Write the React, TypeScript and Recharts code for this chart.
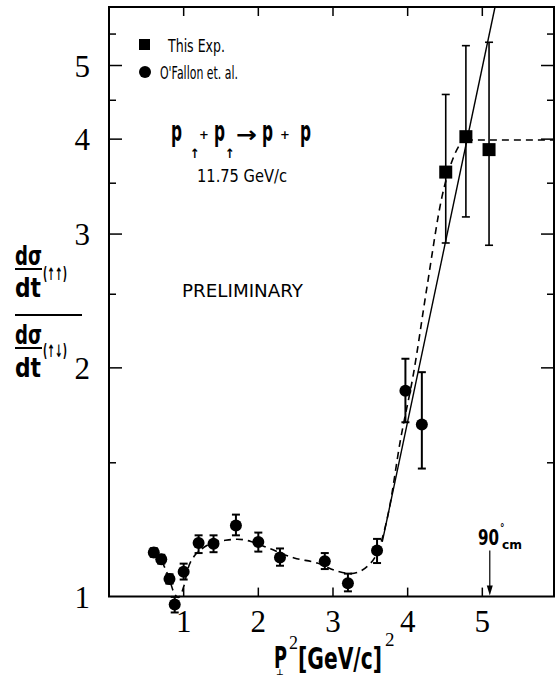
import React from 'react';
import {
  ComposedChart, Scatter, Line, XAxis, YAxis, ErrorBar,
  ReferenceLine, ReferenceArea, Legend,
} from 'recharts';

// ---- O'Fallon et al. (circles) ----
const ofX = [0.60, 0.70, 0.81, 0.88, 1.00, 1.20, 1.40, 1.70, 2.00, 2.29, 2.89, 3.20, 3.59, 3.97, 4.19];
const ofY = [1.143, 1.12, 1.055, 0.976, 1.078, 1.176, 1.174, 1.24, 1.18, 1.126, 1.113, 1.041, 1.15, 1.866, 1.684];
const ofErrLow = [0.015, 0.015, 0.015, 0.023, 0.025, 0.035, 0.03, 0.036, 0.034, 0.028, 0.026, 0.025, 0.043, 0.17, 0.21];
const ofErrHigh = [0.015, 0.015, 0.015, 0.023, 0.027, 0.028, 0.03, 0.042, 0.034, 0.031, 0.028, 0.031, 0.041, 0.19, 0.29];

// ---- This experiment (squares) ----
const expX = [4.51, 4.78, 5.09];
const expY = [3.62, 4.03, 3.875];
const expErrLow = [0.70, 0.87, 0.975];
const expErrHigh = [0.96, 1.28, 1.49];

// ---- dashed guide curve ----
const dashX = [0.60, 0.70, 0.80, 0.87, 0.93, 1.00, 1.06, 1.14, 1.24, 1.40, 1.56, 1.72, 1.90, 2.12, 2.48, 2.79, 3.06, 3.24, 3.46, 3.62, 3.75, 3.90, 4.08, 4.26, 4.46, 4.62, 4.78];
const dashY = [1.143, 1.115, 1.06, 1.012, 0.997, 1.03, 1.09, 1.13, 1.155, 1.178, 1.186, 1.19, 1.182, 1.16, 1.124, 1.107, 1.08, 1.072, 1.096, 1.16, 1.30, 1.60, 1.97, 2.56, 3.36, 3.80, 4.03];
// dashed horizontal continuation
const flatX = [4.78, 5.96];
const flatY = [3.99, 3.99];
// solid straight fit
const fitX = [3.66, 5.17];
const fitY = [1.18, 5.97];

// ---- axes ----
const xDomain = [0, 5.96];
const yDomain = [0.94, 5.97];
const xTicks = [1, 2, 3, 4, 5];
const yTicks = [1, 2, 3, 4, 5];
const yMinorTicks = [1.5, 2.5, 3.5, 4.5, 5.5];
const yMajorInner = [2, 3, 4, 5];
const arrowX = 5.1;
const arrowY = [1.15, 1.0];

const ofData = ofX.map((x, i) => ({ x, y: ofY[i], err: [ofErrLow[i], ofErrHigh[i]] }));
const expData = expX.map((x, i) => ({ x, y: expY[i], err: [expErrLow[i], expErrHigh[i]] }));
const dashData = dashX.map((x, i) => ({ x, y: dashY[i] }));
const flatData = flatX.map((x, i) => ({ x, y: flatY[i] }));
const fitData = fitX.map((x, i) => ({ x, y: fitY[i] }));

const SERIF = "'Liberation Serif','DejaVu Serif',serif";
const COND = "'Liberation Sans Narrow','DejaVu Sans Condensed','Liberation Sans',sans-serif";
const GOTH = "'DejaVu Sans','Liberation Sans',sans-serif";

const CircleShape = (p: any) => <circle cx={p.cx} cy={p.cy} r={6} fill="#000" />;
const SquareShape = (p: any) => <rect x={p.cx - 6.5} y={p.cy - 6.5} width={13} height={13} fill="#000" />;

const XTick = (p: any) => (
  <text x={p.x} y={p.y} textAnchor="middle" fontFamily={SERIF} fontSize={31} fill="#000">
    {p.payload.value}
  </text>
);
const YTick = (p: any) => (
  <text x={p.x} y={p.y} dy={11} textAnchor="end" fontFamily={SERIF} fontSize={31} fill="#000">
    {p.payload.value}
  </text>
);

const vTicks = (len: number) => (p: any) => {
  const top = Math.min(p.y1, p.y2);
  const bot = Math.max(p.y1, p.y2);
  return (
    <g>
      <line x1={p.x1} x2={p.x1} y1={top} y2={top + len} stroke="#000" strokeWidth={1.5} />
      <line x1={p.x1} x2={p.x1} y1={bot} y2={bot - len} stroke="#000" strokeWidth={1.5} />
    </g>
  );
};
const hTicks = (len: number) => (p: any) => {
  const l = Math.min(p.x1, p.x2);
  const r = Math.max(p.x1, p.x2);
  return (
    <g>
      <line x1={l} x2={l + len} y1={p.y1} y2={p.y1} stroke="#000" strokeWidth={1.5} />
      <line x1={r} x2={r - len} y1={p.y1} y2={p.y1} stroke="#000" strokeWidth={1.5} />
    </g>
  );
};
const ArrowShape = (p: any) => (
  <g>
    <line x1={p.x1} y1={p.y1} x2={p.x2} y2={p.y2 - 6} stroke="#000" strokeWidth={1.2} />
    <polygon points={`${p.x2 - 3},${p.y2 - 11} ${p.x2 + 3},${p.y2 - 11} ${p.x2},${p.y2 - 1}`} fill="#000" />
  </g>
);

const LegendContent = (props: any) => {
  const items = (props.payload || [])
    .filter((e: any) => e.type !== 'none')
    .slice()
    .sort((a: any, b: any) => (a.type === 'square' ? -1 : 0) - (b.type === 'square' ? -1 : 0));
  return (
    <svg width={160} height={62}>
      {items.map((e: any, i: number) => {
        const sq = e.type === 'square';
        const cy = sq ? 14.5 : 42;
        return (
          <g key={i}>
            {sq
              ? <rect x={9} y={cy - 5.5} width={11} height={11} fill="#000" />
              : <circle cx={15} cy={cy} r={6} fill="#000" />}
            <text x={sq ? 38 : 30} y={cy + 7} fontFamily={GOTH} fontSize={18} fill="#000"
              textLength={sq ? 57 : 78} lengthAdjust="spacingAndGlyphs">{e.value}</text>
          </g>
        );
      })}
    </svg>
  );
};

const P = (x: number) => (
  <text x={x} y={141} fontSize={28} textLength={11} lengthAdjust="spacingAndGlyphs">p</text>
);

export default function App() {
  return (
    <div style={{ position: 'absolute', left: 0, top: 0, width: 559, height: 676, background: '#fff' }}>
      <ComposedChart width={559} height={676} margin={{ top: 7, right: 5, bottom: 0, left: 0 }}>
        <XAxis dataKey="x" type="number" domain={xDomain} ticks={xTicks} axisLine={false} tickLine={false}
          tickSize={0} tickMargin={15} height={59} tick={<XTick />} interval={0} />
        <YAxis type="number" scale="log" domain={yDomain} ticks={yTicks} axisLine={false} tickLine={false}
          tickSize={0} tickMargin={19} width={109} tick={<YTick />} interval={0} />
        <ReferenceArea x1={xDomain[0]} x2={xDomain[1]} y1={1} y2={yDomain[1]} fill="none" stroke="#000"
          strokeWidth={2} ifOverflow="visible" />
        {xTicks.map((v) => (
          <ReferenceLine key={'xt' + v} segment={[{ x: v, y: 1 }, { x: v, y: yDomain[1] }]}
            ifOverflow="visible" shape={vTicks(9)} />
        ))}
        {yMajorInner.map((v) => (
          <ReferenceLine key={'ym' + v} segment={[{ x: xDomain[0], y: v }, { x: xDomain[1], y: v }]}
            ifOverflow="visible" shape={hTicks(13)} />
        ))}
        {yMinorTicks.map((v) => (
          <ReferenceLine key={'yn' + v} segment={[{ x: xDomain[0], y: v }, { x: xDomain[1], y: v }]}
            ifOverflow="visible" shape={hTicks(7)} />
        ))}
        <ReferenceLine segment={[{ x: arrowX, y: arrowY[0] }, { x: arrowX, y: arrowY[1] }]}
          ifOverflow="visible" shape={ArrowShape} />
        <Line data={dashData} dataKey="y" type="monotone" stroke="#000" strokeWidth={1.6}
          strokeDasharray="7 5" dot={false} legendType="none" isAnimationActive={false} />
        <Line data={flatData} dataKey="y" type="linear" stroke="#000" strokeWidth={1.6}
          strokeDasharray="7 5" dot={false} legendType="none" isAnimationActive={false} />
        <Line data={fitData} dataKey="y" type="linear" stroke="#000" strokeWidth={1.4}
          dot={false} legendType="none" isAnimationActive={false} />
        <Scatter name="This Exp." data={expData} dataKey="y" shape={SquareShape} legendType="square"
          isAnimationActive={false}>
          <ErrorBar dataKey="err" direction="y" width={4} stroke="#000" strokeWidth={1.6} />
        </Scatter>
        <Scatter name="O'Fallon et. al." data={ofData} dataKey="y" shape={CircleShape} legendType="circle"
          isAnimationActive={false}>
          <ErrorBar dataKey="err" direction="y" width={4} stroke="#000" strokeWidth={2} />
        </Scatter>
        <Legend layout="horizontal" verticalAlign="middle" align="center" content={<LegendContent />}
          wrapperStyle={{ left: 130, top: 30, width: 160, height: 62 }} />
      </ComposedChart>

      <svg width={559} height={676} style={{ position: 'absolute', left: 0, top: 0, pointerEvents: 'none' }}>
        {/* reaction formula */}
        <g fontFamily={COND} fontWeight="bold" fill="#000">
          {P(171)}
          <text x={190} y={158} fontSize={13}>↑</text>
          <text x={199} y={139} fontSize={13}>+</text>
          {P(214)}
          <text x={225} y={158} fontSize={13}>↑</text>
          <text x={236} y={142} fontSize={22} textLength={21} lengthAdjust="spacingAndGlyphs">→</text>
          {P(262)}
          <text x={280} y={139} fontSize={13}>+</text>
          {P(300)}
        </g>
        <text x={197} y={182} fontFamily={GOTH} fontSize={18} fill="#000" textLength={90}
          lengthAdjust="spacingAndGlyphs">11.75 GeV/c</text>
        <text x={182} y={297} fontFamily={GOTH} fontSize={18} fill="#000" textLength={121}
          lengthAdjust="spacingAndGlyphs">PRELIMINARY</text>
        {/* 90 deg cm */}
        <g fontFamily={COND} fontWeight="bold" fill="#000">
          <text x={478} y={545} fontSize={22} textLength={21} lengthAdjust="spacingAndGlyphs">90</text>
          <text x={500} y={531} fontSize={10}>°</text>
          <text x={502} y={549} fontSize={13} textLength={20} lengthAdjust="spacingAndGlyphs">cm</text>
        </g>
        {/* y axis title */}
        <g fontFamily={COND} fontWeight="bold" fill="#000">
          <text x={15} y={265} fontSize={26} textLength={27} lengthAdjust="spacingAndGlyphs">dσ</text>
          <line x1={15} x2={42} y1={269} y2={269} stroke="#000" strokeWidth={2} />
          <text x={15} y={297} fontSize={26} textLength={26} lengthAdjust="spacingAndGlyphs">dt</text>
          <text x={43} y={280} fontSize={17} textLength={24} lengthAdjust="spacingAndGlyphs">(↑↑)</text>
          <line x1={15} x2={82} y1={315} y2={315} stroke="#000" strokeWidth={2} />
          <text x={15} y={344} fontSize={26} textLength={27} lengthAdjust="spacingAndGlyphs">dσ</text>
          <line x1={15} x2={42} y1={348} y2={348} stroke="#000" strokeWidth={2} />
          <text x={15} y={377} fontSize={26} textLength={26} lengthAdjust="spacingAndGlyphs">dt</text>
          <text x={43} y={357} fontSize={17} textLength={24} lengthAdjust="spacingAndGlyphs">(↑↓)</text>
        </g>
        {/* x axis title */}
        <g fill="#000">
          <text x={274} y={668} fontFamily={COND} fontWeight="bold" fontSize={30} textLength={13}
            lengthAdjust="spacingAndGlyphs">P</text>
          <text x={276} y={675} fontFamily={GOTH} fontWeight="bold" fontSize={8}>⊥</text>
          <text x={289} y={649} fontFamily={SERIF} fontSize={18}>2</text>
          <text x={298} y={669} fontFamily={COND} fontWeight="bold" fontSize={30} textLength={84}
            lengthAdjust="spacingAndGlyphs">[GeV/c]</text>
          <text x={385} y={646} fontFamily={SERIF} fontSize={19}>2</text>
        </g>
      </svg>
    </div>
  );
}
